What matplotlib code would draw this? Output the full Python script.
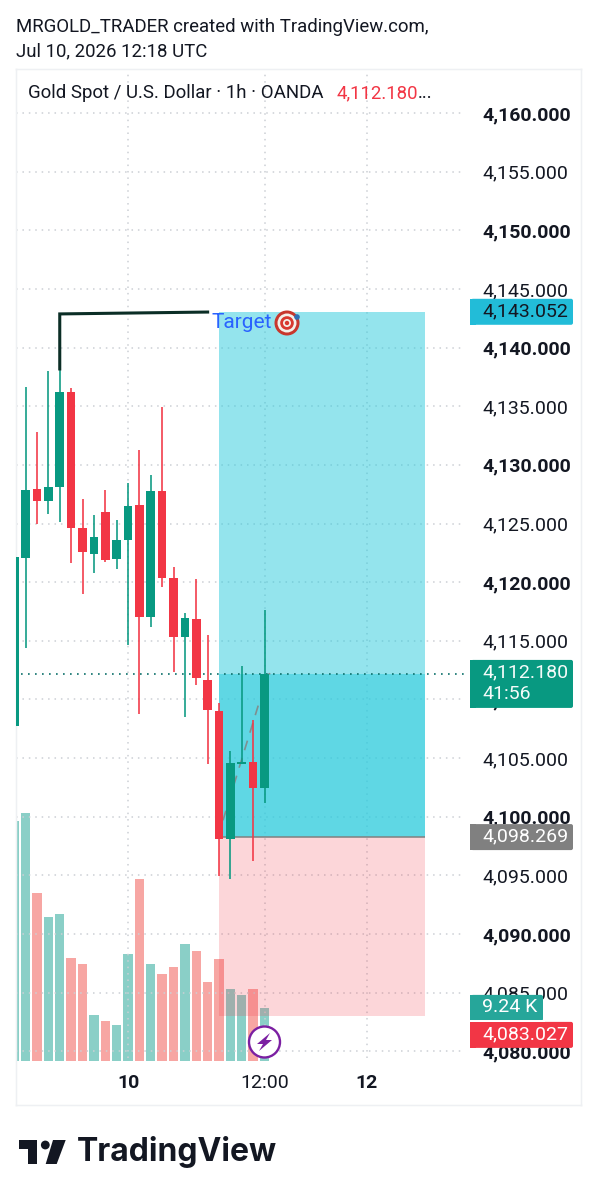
import matplotlib
matplotlib.use("Agg")
import matplotlib.pyplot as plt
from matplotlib.patches import Circle, FancyBboxPatch, Polygon, Rectangle

plt.rcParams['font.family'] = ['Roboto', 'DejaVu Sans']

# ---------- data ----------
opens = [4107.74, 4122.06, 4127.95, 4126.92, 4128.12, 4136.22, 4124.62, 4122.40, 4126.00, 4121.98, 4123.60, 4126.58,
         4117.03, 4127.78, 4120.36, 4115.33, 4116.86, 4111.66, 4109.02, 4098.11, 4104.50, 4104.67, 4102.46]
highs = [4122.15, 4136.64, 4132.81, 4138.00, 4138.18, 4136.56, 4127.09, 4125.73, 4127.86, 4125.30, 4128.46, 4131.27,
         4129.14, 4134.94, 4121.30, 4117.37, 4120.27, 4115.50, 4109.70, 4105.61, 4112.86, 4108.25, 4117.63]
lows = [4107.74, 4114.39, 4124.96, 4125.81, 4125.13, 4121.64, 4119.00, 4120.78, 4121.72, 4121.13, 4114.65, 4108.76,
        4116.18, 4119.59, 4112.35, 4108.51, 4111.24, 4104.50, 4094.95, 4094.70, 4104.50, 4096.23, 4101.18]
closes = [4122.15, 4127.86, 4126.92, 4128.12, 4136.22, 4124.62, 4122.58, 4123.85, 4121.89, 4123.60, 4126.50, 4116.99,
          4127.78, 4120.36, 4115.33, 4116.95, 4111.83, 4109.11, 4098.11, 4104.59, 4104.67, 4102.46, 4112.18]
volumes = [41.8, 43.2, 29.3, 25.1, 25.6, 18.0, 16.9, 8.0, 7.0, 6.3, 18.7, 31.7,
           16.9, 15.2, 16.4, 20.4, 19.2, 13.8, 17.8, 12.5, 11.5, 12.5, 9.24]
price_ticks = [4160 - 5 * i for i in range(17)]
time_ticks = [10, 22, 31]
time_labels = ['10', '12:00', '12']
time_bold = [True, False, True]
target_price = 4143.052
entry_price = 4098.269
stop_price = 4083.027
last_price = 4112.180
box_start, box_end = 18, 36.1
trend_x = [4, 4, 17]
trend_y = [4138.18, 4142.87, 4143.03]
forecast_x = [18.35, 21.8, 22.0, 22.7]
forecast_y = [4099.7, 4110.6, 4112.0, 4112.3]

GREEN = '#089981'
RED = '#F23645'
W, H = 597, 1200

fig = plt.figure(figsize=(W / 100, H / 100), dpi=100, facecolor='white')
L, R, T, B = 16, 581, 69, 1105
ax = fig.add_axes([L / W, 1 - B / H, (R - L) / W, (B - T) / H])
ax_vol = ax.twinx()
ax_vol.set_zorder(1)
ax.set_zorder(2)
ax.patch.set_visible(False)
ax_vol.patch.set_facecolor('white')

ax.set_xlim(0.154, 49.82)
ax.set_ylim(4075.43, 4163.75)
ax_vol.set_ylim(-7.67, 172.9)
ax_vol.set_yticks([])

# volume
xs = list(range(len(opens)))
vol_cols = ['#8ACFC7' if c >= o else '#F7A6A3' for o, c in zip(opens, closes)]
ax_vol.bar(xs, volumes, width=0.82, color=vol_cols, linewidth=0)

# grid
GRID = '#ccd0d5'
DOT = (0, (1, 3.2))
ax.hlines(price_ticks, 0, 0.795, transform=ax.get_yaxis_transform(), color=GRID, lw=1.1, ls=DOT, zorder=1)
ax.vlines(time_ticks, 4079.4, 4163.75, color=GRID, lw=1.1, ls=DOT, zorder=1)

# position box
ax.fill_between([box_start, box_end], entry_price, target_price, color='#2BCBDD', alpha=0.5, lw=0, zorder=2)
ax.fill_between([box_start, box_end], entry_price, last_price, color='#2BCBDD', alpha=0.5, lw=0, zorder=2)
ax.fill_between([box_start, box_end], stop_price, entry_price, color=RED, alpha=0.2, lw=0, zorder=2)
ax.hlines(entry_price, box_start, box_end, color='#808080', lw=1.1, zorder=2.5)

# last price line
ax.hlines(last_price, 0.008, 0.795, transform=ax.get_yaxis_transform(), color='#0b6f6a', lw=1.2,
          ls=(0, (1, 3.2)), zorder=2.6)

# forecast and trend lines
ax.plot(forecast_x, forecast_y, color='#7f8f8f', lw=1.2, ls=(0, (6, 5)), zorder=2.7)
ax.plot(trend_x, trend_y, color='#0b2e26', lw=2.2, solid_joinstyle='miter', zorder=5)

# candles
for i, (o, h, l, c) in enumerate(zip(opens, highs, lows, closes)):
    col = GREEN if c >= o else RED
    ax.vlines(i, l, h, color=col, lw=1.15, zorder=3)
    ax.bar(i, max(abs(c - o), 0.15), bottom=min(o, c), width=0.765, color=col, linewidth=0, zorder=4)

# axes styling
for a in (ax, ax_vol):
    for s in a.spines.values():
        s.set_color('#eef0f3')
        s.set_linewidth(0.9)
ax.yaxis.tick_right()
ax.set_yticks(price_ticks)
ax.set_yticklabels([f'{p:,.3f}' for p in price_ticks])
ax.tick_params(axis='y', length=0, pad=-71.3, labelsize=14, labelcolor='#131722')
for p, lab in zip(price_ticks, ax.get_yticklabels()):
    lab.set_fontweight('bold' if p % 10 == 0 else 'normal')
    lab.set_horizontalalignment('left')
ax.set_xticks(time_ticks)
ax.set_xticklabels(time_labels)
ax.tick_params(axis='x', length=0, pad=-22, labelsize=14, labelcolor='#131722')
for b, lab in zip(time_bold, ax.get_xticklabels()):
    lab.set_fontweight('bold' if b else 'normal')

# ---------- pixel overlay ----------
ov = fig.add_axes([0, 0, 1, 1], zorder=10)
ov.set_xlim(0, W)
ov.set_ylim(H, 0)
ov.axis('off')
ov.patch.set_visible(False)


def py(price):
    fig.canvas.draw_idle()
    return H - ax.transData.transform((0, price))[1]


def tag(x0, x1, y0, y1, color):
    ov.add_patch(FancyBboxPatch((x0 + 3, y0 + 2), x1 - x0 - 5, y1 - y0 - 4,
                                boxstyle='round,pad=2,rounding_size=2', fc=color, ec='none', zorder=3))
    ov.add_patch(Rectangle((x0, y0), 6, y1 - y0, fc=color, ec='none', zorder=3))


def tag_text(y, s, color='white'):
    ov.text(482, y, s, fontsize=14, color=color, va='center', ha='left', zorder=4)


yt = py(target_price)
tag(470, 573, yt - 13, yt + 13, '#22BCD8')
tag_text(yt - 0.5, f'{target_price:,.3f}', '#131722')
yl = py(last_price)
tag(470, 573, yl - 14, yl + 34, GREEN)
tag_text(yl - 1.5, f'{last_price:,.3f}', '#f4fbf9')
tag_text(yl + 20, '41:56', '#f4fbf9')
ye = py(entry_price)
tag(470, 573, ye - 13, ye + 13, '#808080')
tag_text(ye - 0.5, f'{entry_price:,.3f}')
ys = py(stop_price)
tag(470, 543, ys - 21, ys + 5, '#26A69A')
tag_text(ys - 8.5, f'{volumes[-1]:.2f} K')
tag(470, 573, ys + 6, ys + 32, RED)
tag_text(ys + 18, f'{stop_price:,.3f}')
ov.add_patch(Rectangle((470, ys + 4.5), 75, 1.5, fc='white', ec='none', zorder=3.5))

# header and legend
ov.text(16, 27, 'MRGOLD_TRADER created with TradingView.com,', fontsize=13.4, color='#131722', va='center')
ov.text(16, 51, 'Jul 10, 2026 12:18 UTC', fontsize=13.4, color='#131722', va='center')
ov.text(28, 93, 'Gold Spot / U.S. Dollar · 1h · OANDA', fontsize=13.4, color='#131722', va='center')
ov.text(337, 93, f'{last_price:,.3f}', fontsize=13.4, color=RED, va='center')
ov.text(418, 93, '...', fontsize=13.4, color='#131722', va='center')

# target label
ov.text(212, 323, 'Target', fontsize=15, color='#2962FF', va='center')
for r, c in [(12.5, '#c8372d'), (9.5, '#f4f0ea'), (6.8, '#d8392f'), (4, '#f4f0ea'), (2.2, '#d8392f')]:
    ov.add_patch(Circle((287, 323), r, fc=c, ec='none', zorder=5))
ov.add_patch(Circle((297, 317), 2.8, fc='#2f6fb5', ec='none', zorder=6))

# bolt badge
ov.add_patch(Circle((264.5, 1042), 15.5, fc='white', ec='#7B1FA2', lw=1.7, zorder=5))
ov.add_patch(Polygon([(270, 1033), (257, 1044), (263, 1044), (259, 1051), (272, 1040), (266, 1040)],
                     closed=True, fc='#7B1FA2', ec='none', zorder=6))

# logo
K = '#131722'
ov.add_patch(Polygon([(18.7, 1140), (37.3, 1140), (37.3, 1164), (27.7, 1164), (27.7, 1149), (18.7, 1149)],
                     closed=True, fc=K, ec='none'))
ov.add_patch(Circle((45.3, 1145), 4.4, fc=K, ec='none'))
ov.add_patch(Polygon([(53, 1140), (65.7, 1140), (56.7, 1164), (45.7, 1164)], closed=True, fc=K, ec='none'))
ov.text(76.5, 1152.5, 'TradingView', fontsize=23, fontfamily=['Inter', 'DejaVu Sans'], fontweight='bold',
        color=K, va='center')

fig.savefig('out.png', dpi=100, facecolor='white')
